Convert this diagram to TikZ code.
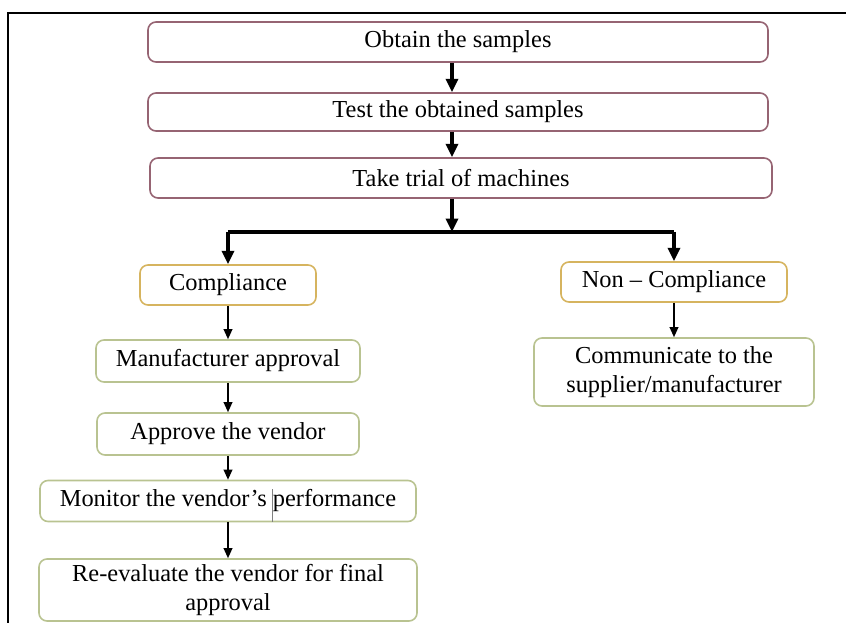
\documentclass[tikz,border=0pt]{standalone}
\usepackage{fontspec}
\setmainfont{Liberation Serif}
\usetikzlibrary{arrows.meta}

\definecolor{topline}{RGB}{150,100,115}
\definecolor{goldline}{RGB}{214,180,95}
\definecolor{oliveline}{RGB}{185,195,145}

\tikzset{every picture/.style={line width=0.75pt}}
\tikzset{
  stepbox/.style={draw, rounded corners=6pt, line width=1.2pt, align=center, inner sep=2pt,
    font=\fontsize{18.3}{22}\selectfont},
  topbox/.style={stepbox, draw=topline},
  goldbox/.style={stepbox, draw=goldline},
  olivebox/.style={stepbox, draw=oliveline},
  thickarr/.style={line width=2.4pt, -{Triangle[length=10pt,width=9pt]}},
  thinarr/.style={line width=1.1pt, -{Triangle[length=7.5pt,width=6.5pt]}}
}

\begin{document}
\begin{tikzpicture}[x=0.75pt,y=0.75pt,yscale=-1,xscale=1]
\useasboundingbox (0,0) rectangle (846,623);

%Frame
\draw[line width=2.2pt] (8,623) -- (8,13) -- (846,13);

%Top boxes
\node[topbox, minimum width=620*0.75pt, minimum height=40*0.75pt] (obtain) at (458,42) {Obtain the samples};
\node[topbox, minimum width=620*0.75pt, minimum height=38*0.75pt] (test) at (458,112) {Test the obtained samples};
\node[topbox, minimum width=622*0.75pt, minimum height=40*0.75pt] (trial) at (461,178) {Take trial of machines};

%Decision boxes
\node[goldbox, minimum width=176*0.75pt, minimum height=40*0.75pt] (compl) at (228,285) {Compliance};
\node[goldbox, minimum width=226*0.75pt, minimum height=40*0.75pt] (noncompl) at (674,282) {Non -- Compliance};

%Left column
\node[olivebox, minimum width=264*0.75pt, minimum height=42*0.75pt] (manuf) at (228,361) {Manufacturer approval};
\node[olivebox, minimum width=262*0.75pt, minimum height=42*0.75pt] (approve) at (228,434) {Approve the vendor};
\node[olivebox, minimum width=376*0.75pt, minimum height=41*0.75pt] (monitor) at (228,501) {Monitor the vendor's performance};
\node[olivebox, minimum width=378*0.75pt, minimum height=62*0.75pt] (reeval) at (228,590) {Re-evaluate the vendor for final\\approval};

%Right column
\node[olivebox, minimum width=280*0.75pt, minimum height=68*0.75pt] (comm) at (674,372) {Communicate to the\\supplier/manufacturer};

%Connectors
\coordinate (mid) at (452,232);
\coordinate (lft) at (228,232);
\coordinate (rgt) at (674,232);
\draw[thickarr] (obtain.south -| mid) -- (test.north -| mid);
\draw[thickarr] (test.south -| mid) -- (trial.north -| mid);
\draw[thickarr] (trial.south -| mid) -- (mid);
\draw[line width=2.4pt] (lft) -- (rgt);
\draw[thickarr] (lft) -- (compl.north);
\draw[thickarr] (rgt) -- (noncompl.north);

\draw[thinarr] (compl) -- (manuf);
\draw[thinarr] (manuf) -- (approve);
\draw[thinarr] (approve) -- (monitor);
\draw[thinarr] (monitor) -- (reeval);
\draw[thinarr] (noncompl) -- (comm);

%Stray mark
\coordinate (mark) at (272,489);
\draw[gray, line width=0.5pt] (mark) -- (mark |- monitor.south);

\end{tikzpicture}
\end{document}
